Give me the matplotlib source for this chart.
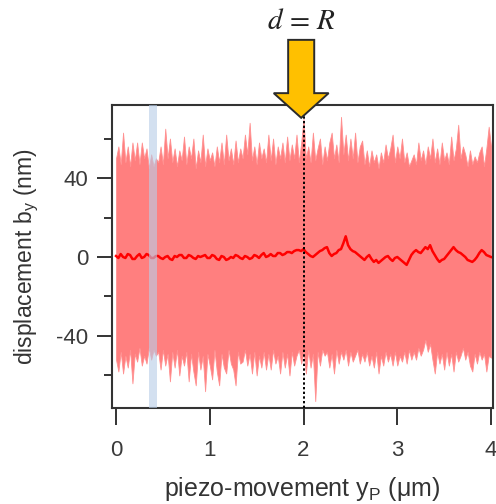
import numpy as np
import matplotlib
matplotlib.use("Agg")
import matplotlib.pyplot as plt
from matplotlib.patches import Polygon

plt.rcParams['font.family'] = ['Liberation Sans', 'DejaVu Sans']

# ---- data (nm), sampled along piezo movement 0..4 um ----
upper_env = [50, 56, 47, 63, 48, 56, 46, 58, 49, 58, 47, 58, 50, 55, 45, 52, 46, 50, 48, 56,
             47, 65, 50, 60, 48, 55, 46, 54, 49, 61, 47, 56, 50, 60, 45, 54, 48, 62, 46, 55,
             49, 53, 46, 56, 48, 58, 47, 62, 49, 55, 47, 59, 48, 55, 50, 62, 52, 68, 49, 56,
             47, 58, 50, 55, 48, 62, 49, 60, 47, 56, 50, 58, 48, 61, 49, 57, 50, 62, 48, 58,
             70, 50, 56, 48, 63, 49, 55, 60, 47, 56, 49, 58, 63, 50, 57, 48, 71, 52, 62, 49,
             60, 50, 63, 48, 56, 59, 47, 54, 46, 54, 48, 52, 45, 53, 48, 57, 50, 55, 62, 48,
             56, 50, 60, 48, 53, 46, 49, 52, 47, 58, 49, 54, 47, 56, 50, 60, 48, 55, 47, 58,
             49, 53, 47, 61, 49, 55, 67, 50, 56, 52, 46, 54, 47, 51, 48, 53, 56, 46, 55, 66, 56]
lower_env = [-52, -58, -48, -59, -50, -56, -47, -64, -49, -53, -46, -55, -50, -54, -46, -52, -47, -50, -48, -57,
             -47, -55, -49, -63, -48, -56, -47, -60, -50, -55, -48, -63, -49, -58, -65, -48, -57, -50, -68, -49,
             -55, -62, -47, -58, -65, -49, -56, -59, -47, -54, -57, -65, -48, -54, -53, -47, -55, -49, -59, -48,
             -60, -50, -56, -48, -57, -49, -57, -47, -54, -50, -59, -48, -56, -49, -60, -48, -55, -50, -47, -54,
             -48, -59, -47, -56, -49, -73, -48, -55, -47, -50, -48, -56, -49, -59, -47, -54, -48, -52, -47, -55,
             -48, -53, -50, -47, -54, -49, -53, -48, -55, -50, -56, -48, -59, -50, -55, -48, -53, -49, -55, -48,
             -55, -50, -53, -48, -54, -47, -52, -48, -52, -46, -50, -47, -42, -48, -44, -52, -59, -48, -54, -49,
             -57, -48, -55, -49, -58, -48, -53, -50, -46, -52, -48, -55, -58, -49, -54, -48, -52, -49, -58, -50, -51]
mean_disp = [0.5, -0.5, 1.5, 0.0, -0.5, 1.5, 1.0, -1.0, -1.0, 0.5, 1.5, -0.5, 0.0, 1.5, 1.0, -0.5, -0.5, 0.5, 0.5, -0.5,
             -1.0, 0.0, 0.5, -1.0, -1.5, 0.5, 0.0, 1.0, 1.0, -0.5, -0.5, 1.0, 0.5, -0.5, -1.0, 0.5, 0.0, 0.5, 1.0, -0.5,
             -0.5, 1.0, 0.5, -1.0, -1.5, 0.5, 0.0, -1.5, -1.0, 0.0, -0.5, 1.0, 0.5, -0.5, -1.0, 0.5, 0.0, -1.0, -0.5, 1.0,
             0.5, -0.5, 1.0, 2.0, 0.0, 0.5, 1.5, 0.5, 0.5, 2.0, 2.0, 1.0, 1.5, 2.5, 2.5, 2.0, 3.0, 3.5, 3.5, 3.0,
             4.0, 2.5, 1.5, 0.5, 0.0, 1.0, 2.0, 3.0, 3.5, 4.5, 5.0, 2.0, 0.5, 1.5, 2.0, 3.5, 4.0, 7.0, 10.5, 6.0,
             4.0, 3.0, 2.5, 1.5, 0.5, -0.5, -1.5, 0.0, 1.0, -1.0, -2.5, -1.5, -3.0, -2.0, -1.0, 0.0, 0.5, -1.0, -2.0, -0.5,
             0.0, -1.0, -2.0, -3.0, -4.0, -1.5, 1.0, 2.5, 3.5, 2.5, 2.0, 3.5, 5.0, 4.0, 6.0, 3.0, 1.0, -1.0, -2.5, -1.5,
             -1.0, 0.5, 2.0, 3.5, 5.0, 3.5, 2.5, 2.0, 1.0, 0.0, -1.5, -2.0, -2.5, -1.5, 0.0, 2.0, 3.5, 2.5, 1.0, 0.5, 0.0]
x_start, x_end = 0.0, 4.0
band_region = (0.35, 0.44)
marker_x = 2.0
x_ticks = [0, 1, 2, 3, 4]
y_major = [-40, 0, 40]
y_minor = [-60, -20, 20, 60]

x_env = np.linspace(x_start, x_end, len(upper_env))
x_mean = np.linspace(x_start, x_end, len(mean_disp))

fig = plt.figure(figsize=(4.96, 5.04), dpi=100)
ax = fig.add_axes([112/496, 1-408/504, (493-112)/496, (408-105)/504])

ax.fill_between(x_env, lower_env, upper_env, color='#ff7f7f', lw=0.6,
                edgecolor='#ff9090', zorder=1)
ax.plot(x_mean, mean_disp, color='#ff0000', lw=1.8, zorder=2)
ax.axvspan(*band_region, color='#b8cde8', alpha=0.62, lw=0, zorder=3)
ax.axvline(marker_x, color='black', ls=(0, (1.2, 1.2)), lw=1.4, zorder=4)

ax.set_xlim(-0.043, 4.021)
ax.set_ylim(-76.5, 77)
ax.set_xticks(x_ticks)
ax.set_yticks(y_major)
ax.set_yticks(y_minor, minor=True)

for s in ax.spines.values():
    s.set_linewidth(1.5)
    s.set_color('#333333')

ax.tick_params(axis='x', which='major', direction='out', length=12, width=1.4, colors='#333333',
               labelsize=16, pad=11, labelcolor='#3a3a3a')
ax.tick_params(axis='y', which='major', direction='out', length=11, width=1.4, colors='#333333',
               labelsize=16, pad=6, labelcolor='#3a3a3a')
ax.tick_params(axis='y', which='minor', direction='out', length=5.5, width=1.4, colors='#333333')
ax.set_yticklabels(['-40', '0', '40'])

ax.set_xlabel(r'piezo-movement y$_\mathregular{P}$ ($\mathregular{\mu}$m)', fontsize=18, color='#333333', labelpad=10)
ax.set_ylabel(r'displacement b$_\mathregular{y}$ (nm)', fontsize=16.5, color='#333333', labelpad=11)

# arrow marker above the axes at d = R
cx = 1.975
sw, hw = 0.139, 0.293
y_top, y_head, y_tip = 110, 83, 70.5
verts = [(cx - sw, y_top), (cx + sw, y_top), (cx + sw, y_head), (cx + hw, y_head),
         (cx, y_tip), (cx - hw, y_head), (cx - sw, y_head)]
ax.add_patch(Polygon(verts, closed=True, facecolor='#ffc000', edgecolor='#2b2b2b', lw=1.4,
                     clip_on=False, zorder=6, joinstyle='miter'))
ax.text(cx, 119.5, r'$d\,=\,R$', fontsize=21, ha='center', va='center', math_fontfamily='stix',
        color='#222222', clip_on=False)

fig.savefig('out.png', dpi=100)
